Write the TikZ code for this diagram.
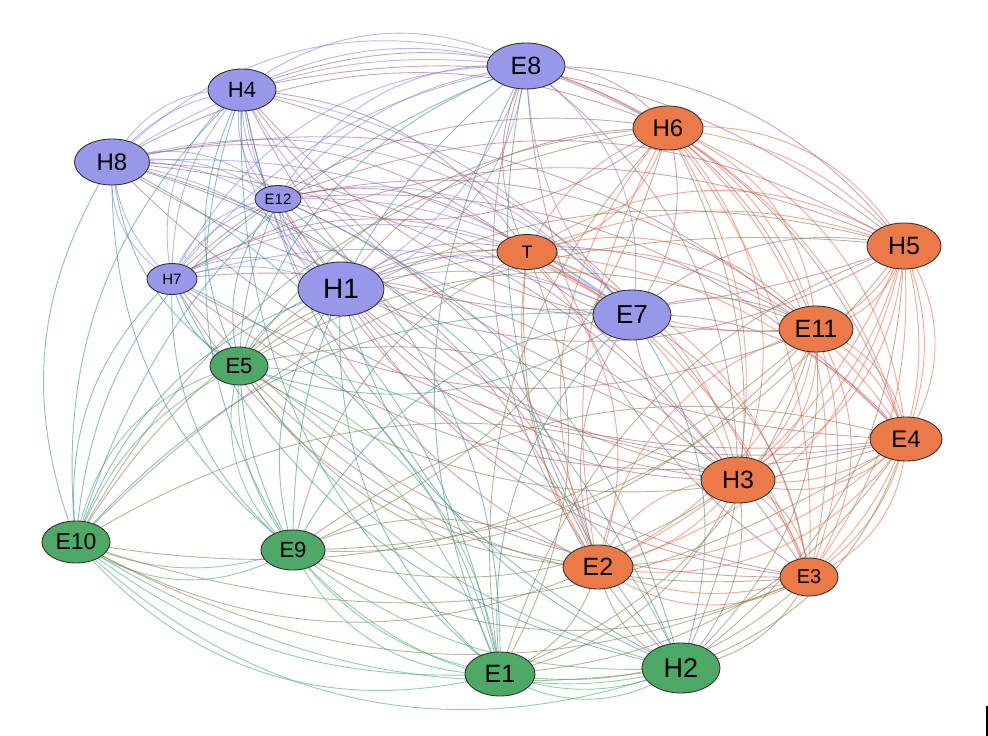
\documentclass[tikz,border=0pt]{standalone}
\usepackage{fontspec}
\setmainfont{Liberation Sans}
\usetikzlibrary{shapes.geometric}
\pgfdeclarelayer{bg}
\pgfsetlayers{bg,main}
\definecolor{nB}{RGB}{152,152,234}
\definecolor{nO}{RGB}{236,122,72}
\definecolor{nG}{RGB}{78,168,102}
\definecolor{eBB}{RGB}{135,135,235}
\definecolor{eBO}{RGB}{170,105,125}
\definecolor{eBG}{RGB}{65,148,150}
\definecolor{eOO}{RGB}{240,108,72}
\definecolor{eOG}{RGB}{135,132,85}
\definecolor{eGG}{RGB}{75,172,115}
\newcommand\fsz[1]{\fontsize{#1}{#1}\selectfont}
\newcommand\myedge[4]{%
  \pgfpointanchor{#1}{center}\pgfgetlastxy{\exa}{\eya}%
  \pgfpointanchor{#2}{center}\pgfgetlastxy{\exb}{\eyb}%
  \pgfmathsetmacro\dotp{(((\exa)+(\exb))/200-5)*(((\eya)-(\eyb))/100)+(((\eya)+(\eyb))/200+3.9)*(((\exb)-(\exa))/100)}%
  \pgfmathsetmacro\mdist{(((\exa)+(\exb))/200-5)^2+(((\eya)+(\eyb))/200+3.9)^2}%
  \pgfmathsetmacro\rsg{rnd}%
  \pgfmathsetmacro\bnd{\mdist<5.5?((\rsg<0.5?1:-1)*#4):((\dotp>=0?1:-1)*#4)}%
  \draw[edgeline,#3] (#1.center) to[bend left=\bnd] (#2.center);}
\begin{document}
\begin{tikzpicture}[x=1pt,y=-1pt,
  nd/.style={ellipse,draw=black!80,line width=0.9pt,inner sep=0pt},
  nodeB/.style={nd,fill=nB},
  nodeO/.style={nd,fill=nO},
  nodeG/.style={nd,fill=nG},
  edgeline/.style={line width=0.9pt,opacity=0.6}]
\pgfmathsetseed{11}
\useasboundingbox (0,0) rectangle (988,736);
% blue nodes
\node[nodeB,minimum width=78pt,minimum height=46pt,font=\fsz{25}] (E8) at (526,66) {E8};
\node[nodeB,minimum width=68pt,minimum height=42pt,font=\fsz{22}] (H4) at (242,90) {H4};
\node[nodeB,minimum width=75pt,minimum height=46pt,font=\fsz{24}] (H8) at (112,162) {H8};
\node[nodeB,minimum width=46pt,minimum height=27pt,font=\fsz{15}] (E12) at (278,199) {E12};
\node[nodeB,minimum width=86pt,minimum height=54pt,font=\fsz{28}] (H1) at (341,289) {H1};
\node[nodeB,minimum width=50pt,minimum height=31pt,font=\fsz{15}] (H7) at (172,279) {H7};
\node[nodeB,minimum width=78pt,minimum height=50pt,font=\fsz{26}] (E7) at (632,315) {E7};
% orange nodes
\node[nodeO,minimum width=70pt,minimum height=44pt,font=\fsz{24}] (H6) at (668,128) {H6};
\node[nodeO,minimum width=60pt,minimum height=35pt,font=\fsz{18}] (T) at (527,252) {T};
\node[nodeO,minimum width=74pt,minimum height=46pt,font=\fsz{25}] (H5) at (904,246) {H5};
\node[nodeO,minimum width=74pt,minimum height=46pt,font=\fsz{25}] (E11) at (816,329) {E11};
\node[nodeO,minimum width=72pt,minimum height=44pt,font=\fsz{24}] (E4) at (906,439) {E4};
\node[nodeO,minimum width=74pt,minimum height=46pt,font=\fsz{25}] (H3) at (738,480) {H3};
\node[nodeO,minimum width=70pt,minimum height=44pt,font=\fsz{25}] (E2) at (598,567) {E2};
\node[nodeO,minimum width=58pt,minimum height=38pt,font=\fsz{20}] (E3) at (809,577) {E3};
% green nodes
\node[nodeG,minimum width=58pt,minimum height=38pt,font=\fsz{22}] (E5) at (239,366) {E5};
\node[nodeG,minimum width=68pt,minimum height=42pt,font=\fsz{23}] (E10) at (76,542) {E10};
\node[nodeG,minimum width=64pt,minimum height=40pt,font=\fsz{22}] (E9) at (293,550) {E9};
\node[nodeG,minimum width=70pt,minimum height=44pt,font=\fsz{25}] (E1) at (500,674) {E1};
\node[nodeG,minimum width=78pt,minimum height=50pt,font=\fsz{27}] (H2) at (681,668) {H2};
% cursor mark
\coordinate (cA) at (987,706);
\coordinate (cB) at (987,736);
\draw[line width=2pt] (cA) -- (cB);
\begin{pgfonlayer}{bg}
\foreach \a [count=\i] in {E8,H4,H8,E12,H1,H7,E7}{
  \foreach \b [count=\j] in {E8,H4,H8,E12,H1,H7,E7}{
    \ifnum\j>\i \myedge{\a}{\b}{eBB}{20}\myedge{\a}{\b}{eBB}{32}\fi}}
\foreach \a [count=\i] in {H6,T,H5,E11,E4,H3,E2,E3}{
  \foreach \b [count=\j] in {H6,T,H5,E11,E4,H3,E2,E3}{
    \ifnum\j>\i \myedge{\a}{\b}{eOO}{20}\myedge{\a}{\b}{eOO}{32}\fi}}
\foreach \a [count=\i] in {E5,E10,E9,E1,H2}{
  \foreach \b [count=\j] in {E5,E10,E9,E1,H2}{
    \ifnum\j>\i \myedge{\a}{\b}{eGG}{20}\myedge{\a}{\b}{eGG}{32}\fi}}
\foreach \a in {E8,H4,H8,E12,H1,H7,E7}{
  \foreach \b in {H6,T,H5,E11,E4,H3,E2,E3}{\myedge{\a}{\b}{eBO}{26}}}
\foreach \a in {E8,H4,H8,E12,H1,H7,E7}{
  \foreach \b in {E5,E10,E9,E1,H2}{\myedge{\a}{\b}{eBG}{26}}}
\foreach \a in {H6,T,H5,E11,E4,H3,E2,E3}{
  \foreach \b in {E5,E10,E9,E1,H2}{\myedge{\a}{\b}{eOG}{26}}}
\end{pgfonlayer}
\end{tikzpicture}
\end{document}
